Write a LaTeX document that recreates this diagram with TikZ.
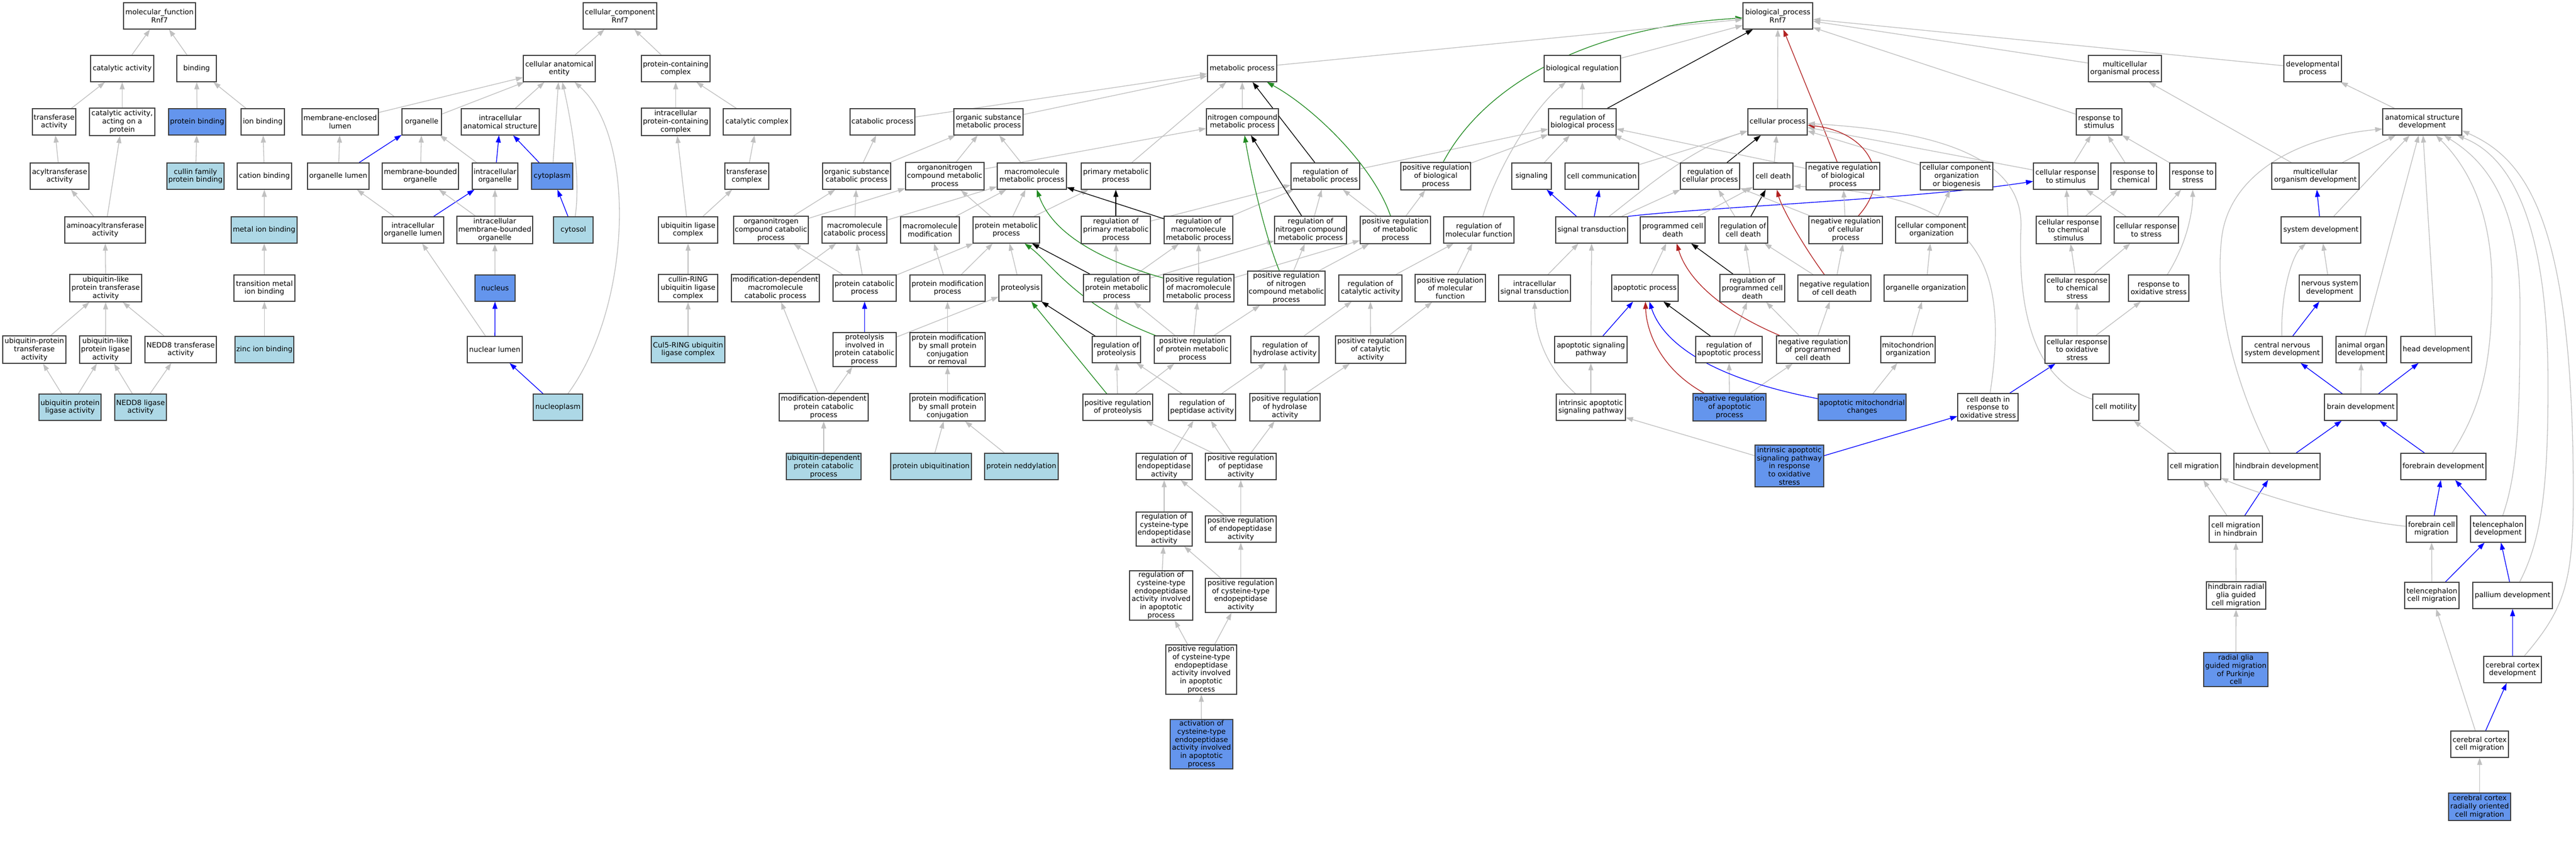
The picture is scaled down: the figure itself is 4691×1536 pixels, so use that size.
\documentclass[tikz,border=0pt]{standalone}
\usepackage{fontspec}
\setmainfont{DejaVu Sans}
\usetikzlibrary{arrows.meta}
\pgfdeclarelayer{bg}
\pgfsetlayers{bg,main}
\definecolor{lbl}{HTML}{ADD8E6}
\definecolor{dbl}{HTML}{6495ED}
\definecolor{egray}{HTML}{C0C0C0}
\definecolor{fgreen}{HTML}{228B22}
\definecolor{fred}{HTML}{B22222}
\tikzset{
 gbox/.style={draw=black!75, line width=1.4pt, rectangle, inner sep=0pt, align=center, fill=white, font=\fontsize{13}{14.7}\selectfont},
 lb/.style={fill=lbl}, db/.style={fill=dbl},
 ge/.style={draw=egray, line width=1.3pt, -{Triangle[length=13pt,width=9pt]}},
 gb/.style={ge, draw=blue},
 gk/.style={ge, draw=black},
 gg/.style={ge, draw=fgreen},
 gr/.style={ge, draw=fred}
}
\newcommand\gnode[6][]{\node[gbox,#1,minimum width=#5pt,minimum height=#6pt] (#2) at (#3) {#4};}
\newcommand\gE[3][ge]{\draw[#1] (#2) -- (#3);}
\begin{document}
\begin{tikzpicture}[x=1pt,y=-1pt]
\useasboundingbox (0,0) rectangle (4691,1536);
% ---------- MF
\gnode{mf}{290.5,29}{molecular\_function\\Rnf7}{131}{48}
\gnode{catact}{222.5,125}{catalytic activity}{115}{48}
\gnode{binding}{358,125}{binding}{72}{48}
\gnode{transf}{98.5,222}{transferase\\activity}{79}{48}
\gnode{catprot}{222.5,222}{catalytic activity,\\acting on a\\protein}{119}{50}
\gnode[db]{protbind}{359,222}{protein binding}{104}{48}
\gnode{ionbind}{478.5,222}{ion binding}{79}{48}
\gnode{melumen}{619.5,222}{membrane-enclosed\\lumen}{139}{48}
\gnode{organelle}{768,222}{organelle}{72}{48}
\gnode{acyl}{108.5,321}{acyltransferase\\activity}{107}{48}
\gnode[lb]{cullinpb}{356,321}{cullin family\\protein binding}{104}{48}
\gnode{cation}{481.5,321}{cation binding}{99}{48}
\gnode{orglumen}{616,321}{organelle lumen}{112}{48}
\gnode{mbo}{765.5,321}{membrane-bounded\\organelle}{139}{48}
\gnode{aminoacyl}{191.5,419}{aminoacyltransferase\\activity}{147}{48}
\gnode[lb]{metalion}{481,419}{metal ion binding}{120}{48}
\gnode{iol}{752,419}{intracellular\\organelle lumen}{112}{48}
\gnode{ubltrans}{192.5,525}{ubiquitin-like\\protein transferase\\activity}{131}{50}
\gnode{transmetal}{481.5,525}{transition metal\\ion binding}{111}{48}
\gnode{ubptrans}{62.5,637}{ubiquitin-protein\\transferase\\activity}{115}{50}
\gnode{ublligase}{192,637}{ubiquitin-like\\protein ligase\\activity}{94}{50}
\gnode{nedd8trans}{329,637}{NEDD8 transferase\\activity}{130}{48}
\gnode[lb]{zinc}{481.5,637}{zinc ion binding}{107}{48}
\gnode[lb]{ubpligase}{127.5,742}{ubiquitin protein\\ligase activity}{113}{48}
\gnode[lb]{nedd8lig}{256,742}{NEDD8 ligase\\activity}{94}{48}
% ---------- CC
\gnode{cc}{1129,29}{cellular\_component\\Rnf7}{134}{48}
\gnode{cae}{1018.5,125}{cellular anatomical\\entity}{131}{48}
\gnode{pcc}{1230.5,125}{protein-containing\\complex}{125}{48}
\gnode{ias}{911,222}{intracellular\\anatomical structure}{142}{48}
\gnode{ipcc}{1230.5,222}{intracellular\\protein-containing\\complex}{125}{50}
\gnode{catcomplex}{1378.5,222}{catalytic complex}{123}{48}
\gnode{io}{901.5,321}{intracellular\\organelle}{83}{48}
\gnode[db]{cytoplasm}{1005.5,321}{cytoplasm}{75}{48}
\gnode{transcomplex}{1360,321}{transferase\\complex}{80}{48}
\gnode{imbo}{901,419}{intracellular\\membrane-bounded\\organelle}{138}{50}
\gnode[lb]{cytosol}{1044,419}{cytosol}{72}{48}
\gnode{ublcomplex}{1253,419}{ubiquitin ligase\\complex}{108}{48}
\gnode[db]{nucleus}{901.5,525}{nucleus}{73}{48}
\gnode{crl}{1253,525}{cullin-RING\\ubiquitin ligase\\complex}{108}{50}
\gnode{nuclumen}{901,637}{nuclear lumen}{100}{48}
\gnode[lb]{cul5}{1253,637}{Cul5-RING ubiquitin\\ligase complex}{134}{48}
\gnode[lb]{nucleoplasm}{1016,742}{nucleoplasm}{90}{48}
% ---------- BP metabolic
\gnode{catab}{1607,222}{catabolic process}{118}{48}
\gnode{oscat}{1560,321}{organic substance\\catabolic process}{124}{48}
\gnode{oncat}{1404,419}{organonitrogen\\compound catabolic\\process}{136}{50}
\gnode{mmcat}{1556,419}{macromolecule\\catabolic process}{118}{48}
\gnode{mdmcat}{1412,525}{modification-dependent\\macromolecule\\catabolic process}{160}{50}
\gnode{protcat}{1574.5,525}{protein catabolic\\process}{115}{48}
\gnode{proteolpc}{1574.5,637}{proteolysis\\involved in\\protein catabolic\\process}{115}{62}
\gnode{mdpcat}{1500,742}{modification-dependent\\protein catabolic\\process}{162}{50}
\gnode[lb]{udpcat}{1500,850}{ubiquitin-dependent\\protein catabolic\\process}{136}{48}
\gnode{metab}{2262,125}{metabolic process}{126}{48}
\gnode{osmet}{1800,222}{organic substance\\metabolic process}{126}{48}
\gnode{ncmet}{2262.5,222}{nitrogen compound\\metabolic process}{131}{48}
\gnode{onmet}{1720.5,321}{organonitrogen\\compound metabolic\\process}{143}{50}
\gnode{mmmet}{1879,321}{macromolecule\\metabolic process}{126}{48}
\gnode{primet}{2032,321}{primary metabolic\\process}{126}{48}
\gnode{regmet}{2413.5,321}{regulation of\\metabolic process}{125}{48}
\gnode{mmmod}{1693.5,419}{macromolecule\\modification}{107}{48}
\gnode{protmet}{1832.5,419}{protein metabolic\\process}{121}{48}
\gnode{regprimet}{2032,419}{regulation of\\primary metabolic\\process}{126}{50}
\gnode{regmmmet}{2182.5,419}{regulation of\\macromolecule\\metabolic process}{125}{50}
\gnode{regncmet}{2386.5,419}{regulation of\\nitrogen compound\\metabolic process}{131}{50}
\gnode{protmod}{1725.5,525}{protein modification\\process}{137}{48}
\gnode{proteolysis}{1858,525}{proteolysis}{78}{48}
\gnode{regprotmet}{2033.5,525}{regulation of\\protein metabolic\\process}{121}{50}
\gnode{posregmmmet}{2183,525}{positive regulation\\of macromolecule\\metabolic process}{128}{50}
\gnode{posregncmet}{2342.5,525}{positive regulation\\of nitrogen\\compound metabolic\\process}{141}{62}
\gnode{regcatact}{2495.5,525}{regulation of\\catalytic activity}{115}{48}
\gnode{posregmf}{2641,525}{positive regulation\\of molecular\\function}{128}{50}
\gnode{pmsmcr}{1725.5,637}{protein modification\\by small protein\\conjugation\\or removal}{137}{62}
\gnode{regproteol}{2033,637}{regulation of\\proteolysis}{88}{48}
\gnode{posregprotmet}{2171.5,637}{positive regulation\\of protein metabolic\\process}{139}{50}
\gnode{reghydro}{2340,637}{regulation of\\hydrolase activity}{124}{48}
\gnode{posregcatact}{2496,637}{positive regulation\\of catalytic\\activity}{128}{50}
\gnode{pmsmc}{1725.5,742}{protein modification\\by small protein\\conjugation}{137}{50}
\gnode{posregproteol}{2035.5,742}{positive regulation\\of proteolysis}{127}{48}
\gnode{regpept}{2189,742}{regulation of\\peptidase activity}{122}{48}
\gnode{posreghydro}{2340,742}{positive regulation\\of hydrolase\\activity}{128}{50}
\gnode[lb]{protubiq}{1695.5,850}{protein ubiquitination}{147}{48}
\gnode[lb]{protnedd}{1860,850}{protein neddylation}{134}{48}
\gnode{regendo}{2120,850}{regulation of\\endopeptidase\\activity}{102}{48}
\gnode{posregpept}{2259.5,850}{positive regulation\\of peptidase\\activity}{129}{48}
\gnode{regcysendo}{2120,964}{regulation of\\cysteine-type\\endopeptidase\\activity}{102}{62}
\gnode{posregendo}{2259.5,964}{positive regulation\\of endopeptidase\\activity}{129}{48}
\gnode{regcysapo}{2114.5,1085}{regulation of\\cysteine-type\\endopeptidase\\activity involved\\in apoptotic\\process}{115}{90}
\gnode{posregcys}{2259.5,1085}{positive regulation\\of cysteine-type\\endopeptidase\\activity}{129}{62}
\gnode{posregcysapo}{2187.5,1220}{positive regulation\\of cysteine-type\\endopeptidase\\activity involved\\in apoptotic\\process}{129}{90}
\gnode[db]{actcys}{2188,1356}{activation of\\cysteine-type\\endopeptidase\\activity involved\\in apoptotic\\process}{114}{90}
% ---------- BP middle
\gnode{bioreg}{2881.5,125}{biological regulation}{139}{48}
\gnode{regbp}{2881.5,222}{regulation of\\biological process}{123}{48}
\gnode{posregbp}{2614.5,321}{positive regulation\\of biological\\process}{127}{50}
\gnode{signaling}{2789,321}{signaling}{72}{48}
\gnode{cellcomm}{2917,321}{cell communication}{134}{48}
\gnode{regcp}{3114,321}{regulation of\\cellular process}{108}{48}
\gnode{posregmet}{2541,419}{positive regulation\\of metabolic\\process}{128}{50}
\gnode{regmf}{2693,419}{regulation of\\molecular function}{128}{48}
\gnode{sigtrans}{2898.5,419}{signal transduction}{131}{48}
\gnode{pcd}{3046,419}{programmed cell\\death}{118}{48}
\gnode{regcd}{3174.5,419}{regulation of\\cell death}{89}{48}
\gnode{intrasig}{2794.5,525}{intracellular\\signal transduction}{131}{48}
\gnode{apoproc}{2995.5,525}{apoptotic process}{121}{48}
\gnode{regpcd}{3191,525}{regulation of\\programmed cell\\death}{118}{50}
\gnode{aposig}{2897,637}{apoptotic signaling\\pathway}{132}{48}
\gnode{regapo}{3148.5,637}{regulation of\\apoptotic process}{121}{48}
\gnode{intrapo}{2897,742}{intrinsic apoptotic\\signaling pathway}{126}{48}
\gnode[db]{negregapo}{3149.5,742}{negative regulation\\of apoptotic\\process}{133}{50}
\gnode[db]{intrapoox}{3258.5,849}{intrinsic apoptotic\\signaling pathway\\in response\\to oxidative\\stress}{125}{76}
\gnode[db]{apomito}{3391,742}{apoptotic mitochondrial\\changes}{160}{48}
% ---------- BP right
\gnode{bp}{3237.5,29}{biological\_process\\Rnf7}{127}{48}
\gnode{mop}{3869.5,125}{multicellular\\organismal process}{133}{48}
\gnode{devproc}{4211.5,125}{developmental\\process}{105}{48}
\gnode{cellproc}{3237,222}{cellular process}{108}{48}
\gnode{respstim}{3822.5,222}{response to\\stimulus}{83}{48}
\gnode{asd}{4411,222}{anatomical structure\\development}{144}{48}
\gnode{celldeath}{3229,321}{cell death}{72}{48}
\gnode{negregbp}{3356,321}{negative regulation\\of biological\\process}{134}{50}
\gnode{ccob}{3563,321}{cellular component\\organization\\or biogenesis}{132}{50}
\gnode{cellrespstim}{3762,321}{cellular response\\to stimulus}{118}{48}
\gnode{respchem}{3885.5,321}{response to\\chemical}{83}{48}
\gnode{respstress}{3993,321}{response to\\stress}{84}{48}
\gnode{mod}{4216.5,321}{multicellular\\organism development}{159}{48}
\gnode{negregcp}{3361,419}{negative regulation\\of cellular\\process}{134}{50}
\gnode{cco}{3517.5,419}{cellular component\\organization}{131}{48}
\gnode{crcs}{3767,419}{cellular response\\to chemical\\stimulus}{118}{50}
\gnode{crstress}{3908.5,419}{cellular response\\to stress}{117}{48}
\gnode{sysdev}{4226.5,419}{system development}{145}{48}
\gnode{negregcd}{3340.5,525}{negative regulation\\of cell death}{133}{48}
\gnode{orgorg}{3507,525}{organelle organization}{152}{48}
\gnode{crchemstress}{3782.5,525}{cellular response\\to chemical\\stress}{117}{50}
\gnode{respox}{3931,525}{response to\\oxidative stress}{110}{48}
\gnode{nsdev}{4242.5,525}{nervous system\\development}{111}{48}
\gnode{negregpcd}{3301.5,637}{negative regulation\\of programmed\\cell death}{133}{50}
\gnode{mitoorg}{3474.5,637}{mitochondrion\\organization}{99}{48}
\gnode{croxstress}{3782.5,637}{cellular response\\to oxidative\\stress}{117}{50}
\gnode{cnsdev}{4156,637}{central nervous\\system development}{146}{48}
\gnode{aodev}{4300,637}{animal organ\\development}{92}{48}
\gnode{headdev}{4436.5,637}{head development}{129}{48}
\gnode{cdox}{3620,742}{cell death in\\response to\\oxidative stress}{110}{50}
\gnode{motility}{3853,742}{cell motility}{84}{48}
\gnode{braindev}{4299,742}{brain development}{132}{48}
\gnode{cellmig}{3996,850}{cell migration}{96}{48}
\gnode{hinddev}{4146.5,850}{hindbrain development}{157}{48}
\gnode{foredev}{4449.5,850}{forebrain development}{155}{48}
\gnode{cmhind}{4071.5,964}{cell migration\\in hindbrain}{97}{48}
\gnode{forecm}{4428,964}{forebrain cell\\migration}{92}{48}
\gnode{teldev}{4549,964}{telencephalon\\development}{100}{48}
\gnode{hrgcm}{4072,1085}{hindbrain radial\\glia guided\\cell migration}{108}{50}
\gnode{telcm}{4428.5,1085}{telencephalon\\cell migration}{99}{48}
\gnode{palldev}{4575.5,1085}{pallium development}{145}{48}
\gnode[db]{rgpurk}{4071.5,1220}{radial glia\\guided migration\\of Purkinje\\cell}{117}{62}
\gnode{ccdev}{4575.5,1220}{cerebral cortex\\development}{105}{48}
\gnode{cccm}{4515.5,1356}{cerebral cortex\\cell migration}{105}{48}
\gnode[db]{ccrad}{4515.5,1470}{cerebral cortex\\radially oriented\\cell migration}{113}{50}
% ================= EDGES
\begin{pgfonlayer}{bg}
\fill[white] (0,0) rectangle (4691,1536);
% MF
\gE{catact}{mf} \gE{binding}{mf} \gE{transf}{catact} \gE{catprot}{catact}
\gE{protbind}{binding} \gE{ionbind}{binding} \gE{acyl}{transf} \gE{cullinpb}{protbind}
\gE{cation}{ionbind} \gE{aminoacyl}{acyl} \gE{aminoacyl}{catprot} \gE{metalion}{cation}
\gE{ubltrans}{aminoacyl} \gE{transmetal}{metalion} \gE{ubptrans}{ubltrans} \gE{ublligase}{ubltrans}
\gE{nedd8trans}{ubltrans} \gE{zinc}{transmetal} \gE{ubpligase}{ubptrans} \gE{ubpligase}{ublligase}
\gE{nedd8lig}{ublligase} \gE{nedd8lig}{nedd8trans}
% CC
\gE{cae}{cc} \gE{pcc}{cc} \gE{melumen}{cae} \gE{organelle}{cae} \gE{ias}{cae} \gE{cytoplasm}{cae}
\draw[ge] (cytosol) .. controls (1058,320) and (1040,220) .. (cae);
\draw[ge] (nucleoplasm) .. controls (1150,560) and (1160,250) .. (cae);
\gE{orglumen}{melumen} \gE[gb]{orglumen}{organelle} \gE{mbo}{organelle} \gE{io}{organelle}
\gE[gb]{io}{ias} \gE[gb]{cytoplasm}{ias} \gE{iol}{orglumen} \gE[gb]{iol}{io} \gE{imbo}{mbo}
\gE{imbo}{io} \gE[gb]{cytosol}{cytoplasm} \gE{nucleus}{imbo} \gE[gb]{nuclumen}{nucleus}
\gE{nuclumen}{iol} \gE[gb]{nucleoplasm}{nuclumen} \gE{ipcc}{pcc} \gE{catcomplex}{pcc}
\gE{transcomplex}{catcomplex} \gE{ublcomplex}{ipcc} \gE{ublcomplex}{transcomplex}
\gE{crl}{ublcomplex} \gE{cul5}{crl}
% metabolic
\gE{catab}{metab} \gE{osmet}{metab} \gE{oscat}{catab} \gE{oscat}{osmet} \gE{oncat}{oscat}
\gE{oncat}{onmet} \gE{mmcat}{oscat} \gE{mmcat}{mmmet} \gE{mdmcat}{mmcat} \gE{protcat}{oncat}
\gE{protcat}{mmcat} \gE{protcat}{protmet} \gE[gb]{proteolpc}{protcat} \gE{proteolpc}{proteolysis}
\gE{mdpcat}{mdmcat} \gE{mdpcat}{proteolpc} \gE{udpcat}{mdpcat}
\gE{onmet}{osmet} \gE{onmet}{ncmet} \gE{mmmet}{osmet} \gE{primet}{metab} \gE{ncmet}{metab}
\gE{mmmod}{mmmet} \gE{protmet}{onmet} \gE{protmet}{mmmet} \gE{protmet}{primet}
\gE{protmod}{mmmod} \gE{protmod}{protmet} \gE{proteolysis}{protmet}
\gE[gk]{regprimet}{primet} \gE{regprimet}{regmet} \gE[gk]{regmmmet}{mmmet} \gE{regmmmet}{regmet}
\gE[gk]{regncmet}{ncmet} \gE{regncmet}{regmet} \gE[gk]{regmet}{metab} \gE{regmet}{regbp}
\gE[gk]{regprotmet}{protmet} \gE{regprotmet}{regprimet} \gE{regprotmet}{regmmmet} \gE{regprotmet}{regncmet}
\draw[gg] (posregmmmet) .. controls (1990,470) and (1915,420) .. (mmmet);
\gE{posregmmmet}{regmmmet} \gE{posregmmmet}{posregmet}
\draw[gg] (posregncmet) .. controls (2300,420) and (2275,300) .. (ncmet);
\gE{posregncmet}{regncmet} \gE{posregncmet}{posregmet}
\gE{posregmet}{regmet} \gE{posregmet}{posregbp}
\draw[gg] (posregmet) .. controls (2500,300) and (2390,195) .. (metab);
\gE{posregbp}{regbp}
\draw[gg] (posregbp) .. controls (2700,160) and (2880,50) .. (bp);
\gE{regbp}{bioreg} \gE[gk]{regbp}{bp} \gE{bioreg}{bp} \gE{metab}{bp}
\draw[ge] (regmf) .. controls (2725,310) and (2790,200) .. (bioreg);
\gE{regcatact}{regmf} \gE{posregmf}{regmf} \gE{reghydro}{regcatact} \gE{posregcatact}{regcatact}
\gE{posregcatact}{posregmf} \gE{posreghydro}{reghydro} \gE{posreghydro}{posregcatact}
\gE{pmsmcr}{protmod} \gE{pmsmc}{pmsmcr} \gE{protubiq}{pmsmc} \gE{protnedd}{pmsmc}
\gE[gk]{regproteol}{proteolysis} \gE{regproteol}{regprotmet}
\draw[gg] (posregprotmet) .. controls (1960,556) and (1915,480) .. (protmet);
\gE{posregprotmet}{regprotmet} \gE{posregprotmet}{posregmmmet} \gE{posregprotmet}{posregncmet}
\gE[gg]{posregproteol}{proteolysis} \gE{posregproteol}{regproteol} \gE{posregproteol}{posregprotmet}
\gE{regpept}{regproteol} \gE{regpept}{reghydro}
\gE{regendo}{regpept} \gE{posregpept}{posregproteol} \gE{posregpept}{regpept} \gE{posregpept}{posreghydro}
\gE{regcysendo}{regendo} \gE{posregendo}{regendo} \gE{posregendo}{posregpept}
\gE{regcysapo}{regcysendo} \gE{posregcys}{regcysendo} \gE{posregcys}{posregendo}
\gE{posregcysapo}{regcysapo} \gE{posregcysapo}{posregcys}
\gE{actcys}{posregcysapo}
% middle
\gE{signaling}{regbp} \gE{cellcomm}{cellproc} \gE{regcp}{regbp} \gE[gk]{regcp}{cellproc}
\gE[gb]{sigtrans}{signaling} \gE[gb]{sigtrans}{cellcomm} \gE{sigtrans}{regcp}
\draw[ge] (sigtrans) .. controls (3000,340) and (3080,270) .. (cellproc);
\draw[gb] (sigtrans.north east) .. controls (3100,378) and (3500,362) .. (cellrespstim);
\gE{pcd}{celldeath} \gE[gk]{regcd}{celldeath} \gE{regcd}{regcp}
\gE{intrasig}{sigtrans} \gE{apoproc}{pcd} \gE[gk]{regpcd}{pcd} \gE{regpcd}{regcd}
\gE{aposig}{sigtrans} \gE[gb]{aposig}{apoproc} \gE[gk]{regapo}{apoproc} \gE{regapo}{regpcd}
\gE{intrapo}{aposig}
\draw[ge] (intrapo) .. controls (2810,665) and (2795,600) .. (intrasig);
\draw[gr] (negregapo) .. controls (3020,670) and (2998,600) .. (apoproc);
\gE{negregapo}{regapo} \gE{negregapo}{negregpcd}
\gE{intrapoox}{intrapo} \gE[gb]{intrapoox}{cdox}
\draw[gb] (apomito) .. controls (3070,680) and (3020,600) .. (apoproc);
\gE{apomito}{mitoorg}
% right
\gE{cellproc}{bp} \gE[gr]{negregbp}{bp} \gE{negregbp}{regbp} \gE{mop}{bp} \gE{devproc}{bp} \gE{respstim}{bp}
\gE{celldeath}{cellproc} \gE{ccob}{cellproc} \gE{cellrespstim}{cellproc} \gE{cellrespstim}{respstim}
\gE{respchem}{respstim} \gE{respstress}{respstim}
\gE{mod}{mop} \gE{mod}{asd} \gE{asd}{devproc}
\draw[gr] (negregcp) .. controls (3450,320) and (3400,240) .. (cellproc);
\gE{negregcp}{negregbp} \gE{negregcp}{regcp}
\gE{cco}{ccob} \gE{crcs}{cellrespstim} \gE{crcs}{respchem} \gE{crstress}{cellrespstim} \gE{crstress}{respstress}
\gE[gb]{sysdev}{mod} \gE{sysdev}{asd}
\draw[gr] (negregcd) .. controls (3285,450) and (3245,380) .. (celldeath);
\gE{negregcd}{regcd} \gE{negregcd}{negregcp}
\gE{orgorg}{cco} \gE{crchemstress}{crcs} \gE{crchemstress}{crstress}
\draw[ge] (respox) .. controls (3985,440) and (3993,380) .. (respstress);
\gE{nsdev}{sysdev}
\draw[gr] (negregpcd) .. controls (3120,560) and (3070,500) .. (pcd);
\gE{negregpcd}{regpcd} \gE{negregpcd}{negregcd}
\gE{mitoorg}{orgorg} \gE{croxstress}{crchemstress} \gE{croxstress}{respox}
\gE[gb]{cnsdev}{nsdev}
\draw[ge] (cnsdev) .. controls (4153,530) and (4175,465) .. (sysdev);
\gE{aodev}{asd} \gE{headdev}{asd}
\gE[gb]{cdox}{croxstress}
\draw[ge] (cdox) .. controls (3665,450) and (3580,355) .. ([yshift=-18pt]celldeath.east);
\draw[ge] (motility) .. controls (3700,690) and (3675,560) .. (3680,420) .. controls (3688,300) and (3560,240) .. (cellproc);
\gE[gb]{braindev}{cnsdev} \gE{braindev}{aodev} \gE[gb]{braindev}{headdev}
\gE{cellmig}{motility} \gE[gb]{hinddev}{braindev} \gE[gb]{foredev}{braindev}
\draw[ge] (hinddev) .. controls (4060,680) and (4035,540) .. (4045,440) .. controls (4055,320) and (4180,250) .. ([yshift=-13pt]asd.west);
\draw[ge] (foredev) .. controls (4520,740) and (4538,660) .. (4538,520) .. controls (4538,380) and (4490,300) .. (asd);
\gE{cmhind}{cellmig} \gE[gb]{cmhind}{hinddev}
\draw[ge] (forecm) .. controls (4250,945) and (4100,895) .. (cellmig);
\gE[gb]{forecm}{foredev} \gE[gb]{teldev}{foredev}
\draw[ge] (teldev) .. controls (4585,860) and (4589,760) .. (4589,560) .. controls (4589,360) and (4520,290) .. (asd);
\gE{hrgcm}{cmhind} \gE{telcm}{forecm} \gE[gb]{telcm}{teldev} \gE[gb]{palldev}{teldev}
\draw[ge] (palldev) .. controls (4630,980) and (4640,880) .. (4640,700) .. controls (4640,380) and (4560,280) .. (asd);
\gE{rgpurk}{hrgcm} \gE[gb]{ccdev}{palldev}
\draw[ge] (ccdev) .. controls (4670,1110) and (4686,1060) .. (4686,900) .. controls (4686,400) and (4600,290) .. ([yshift=-16pt]asd.east);
\gE[gb]{cccm}{ccdev} \gE{cccm}{telcm} \gE{ccrad}{cccm}
\end{pgfonlayer}
\end{tikzpicture}
\end{document}
